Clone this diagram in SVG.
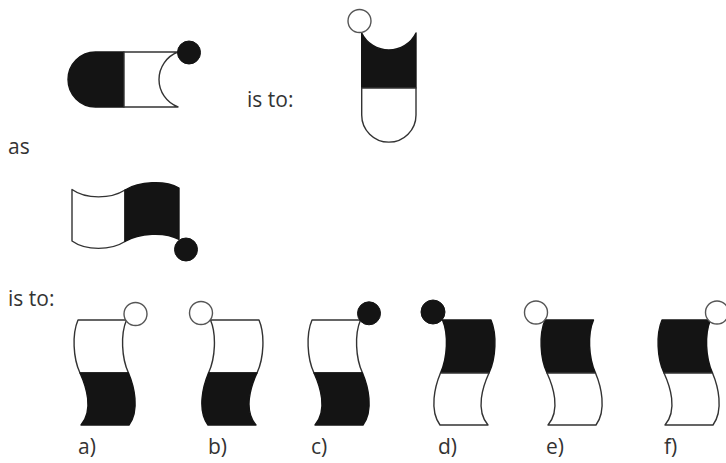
<svg xmlns="http://www.w3.org/2000/svg" xmlns:xlink="http://www.w3.org/1999/xlink" width="726" height="463" viewBox="0 0 726 463">
<style>
  .lbl { font-family: "Open Sans", "Noto Sans", "DejaVu Sans", sans-serif; font-size: 21px; fill: #333333; }
  .w { fill: #ffffff; stroke: #333333; stroke-width: 1.4; stroke-linejoin: round; }
  .b { fill: #141414; stroke: #141414; stroke-width: 1.4; stroke-linejoin: round; }
  .ring { fill: #ffffff; stroke: #555555; stroke-width: 1.4; }
  .dot { fill: #141414; stroke: #141414; stroke-width: 1; }
</style>
<defs>
  <path id="topHalf" d="M0,0 L48.5,0 C42.5,14 43.5,38 50.5,53 L2,53 C-5,38 -6,14 0,0 Z"/>
  <path id="botHalf" d="M2,53 L50.5,53 C56,66 62,90 51,105 L3,105 C16,90 8,66 2,53 Z"/>
</defs>
<rect width="726" height="463" fill="#ffffff"/>

<g id="pill-horizontal">
  <path class="b" d="M124,52 L95.5,52 A27.5,27.5 0 0 0 95.5,107 L124,107 Z"/>
  <path class="w" d="M124,52 L178,52 A29.4,29.4 0 0 0 178,107 L124,107 Z"/>
  <circle class="dot" cx="189" cy="52.5" r="11.5"/>
</g>

<text class="lbl" x="247" y="107">is to:</text>

<g id="pill-vertical">
  <path class="b" d="M361.7,33 A30.2,30.2 0 0 0 416,33 L416,88 L361.7,88 Z"/>
  <path class="w" d="M361.7,88 L416,88 L416,115 A27.15,27.15 0 0 1 361.7,115 Z"/>
  <circle class="ring" cx="359.5" cy="21" r="11.5"/>
</g>

<text class="lbl" x="8" y="154">as</text>

<g id="flag-horizontal">
  <path class="w" d="M72,189.5 C86,199.5 111,199 125,190 L125,241.5 C111,250.5 86,251 72,241 Z"/>
  <path class="b" d="M125,190 C139,181.5 165,180 179,188 L179,239.5 C165,231.5 139,233 125,241.5 Z"/>
  <circle class="dot" cx="186" cy="249.5" r="11.5"/>
</g>

<text class="lbl" x="8" y="306">is to:</text>

<g id="option-a">
  <g transform="translate(78,320)">
    <use xlink:href="#topHalf" href="#topHalf" class="w"/>
    <use xlink:href="#botHalf" href="#botHalf" class="b"/>
  </g>
  <circle class="ring" cx="135.5" cy="314" r="11.5"/>
  <text class="lbl" x="78" y="454">a)</text>
</g>

<g id="option-b">
  <g transform="translate(259,320) scale(-1,1)">
    <use xlink:href="#topHalf" href="#topHalf" class="w"/>
    <use xlink:href="#botHalf" href="#botHalf" class="b"/>
  </g>
  <circle class="ring" cx="201" cy="313" r="11.5"/>
  <text class="lbl" x="208" y="454">b)</text>
</g>

<g id="option-c">
  <g transform="translate(312,320)">
    <use xlink:href="#topHalf" href="#topHalf" class="w"/>
    <use xlink:href="#botHalf" href="#botHalf" class="b"/>
  </g>
  <circle class="dot" cx="369" cy="313.3" r="11.5"/>
  <text class="lbl" x="311" y="454">c)</text>
</g>

<g id="option-d">
  <g transform="translate(491,320) scale(-1,1)">
    <use xlink:href="#topHalf" href="#topHalf" class="b"/>
    <use xlink:href="#botHalf" href="#botHalf" class="w"/>
  </g>
  <circle class="dot" cx="433" cy="312" r="12"/>
  <text class="lbl" x="438" y="454">d)</text>
</g>

<g id="option-e">
  <g transform="translate(545,320)">
    <use xlink:href="#topHalf" href="#topHalf" class="b"/>
    <use xlink:href="#botHalf" href="#botHalf" class="w"/>
  </g>
  <circle class="ring" cx="536" cy="312.5" r="11.5"/>
  <text class="lbl" x="546" y="454">e)</text>
</g>

<g id="option-f">
  <g transform="translate(662,320)">
    <use xlink:href="#topHalf" href="#topHalf" class="b"/>
    <use xlink:href="#botHalf" href="#botHalf" class="w"/>
  </g>
  <circle class="ring" cx="717" cy="312.5" r="11.5"/>
  <text class="lbl" x="664" y="454">f)</text>
</g>

<g id="connectors"></g>
</svg>
